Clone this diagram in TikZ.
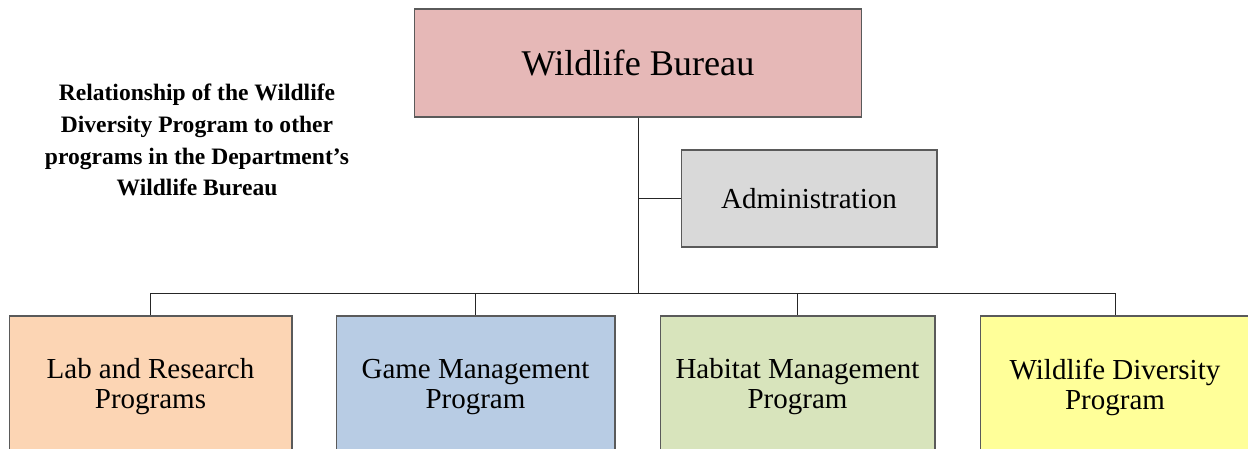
\documentclass[tikz,border=0pt]{standalone}
\usepackage{fontspec}
\setmainfont{Liberation Serif}
\usetikzlibrary{positioning}

\definecolor{bureaupink}{HTML}{E6B8B7}
\definecolor{adminsgray}{HTML}{D9D9D9}
\definecolor{laborange}{HTML}{FCD5B4}
\definecolor{gameblue}{HTML}{B8CCE4}
\definecolor{habitatgreen}{HTML}{D8E4BC}
\definecolor{diversityyellow}{HTML}{FFFF99}
\definecolor{boxline}{HTML}{5A5A5A}

\tikzset{
  unitbox/.style={draw=boxline, line width=0.6pt, inner sep=0pt, align=center},
  progbox/.style={unitbox, minimum height=2.84cm,
    font=\fontsize{16.5}{17}\selectfont},
  link/.style={draw=black!85, line width=0.5pt}
}

\begin{document}
\begin{tikzpicture}[x=0.02cm, y=-0.02cm]
      \useasboundingbox (0,0) rectangle (1248,449);
      \clip (0,0) rectangle (1248,449);

      \node[font=\fontsize{13.4}{18.1}\selectfont\bfseries, align=center] (caption) at (197,140)
        {Relationship of the Wildlife\\ Diversity Program to other\\ programs in the Department’s\\ Wildlife Bureau};

      \node[unitbox, fill=bureaupink, minimum width=8.96cm, minimum height=2.16cm,
        font=\fontsize{20.6}{24}\selectfont] (bureau) at (638,63) {Wildlife Bureau};
      \node[unitbox, fill=adminsgray, minimum width=5.12cm, minimum height=1.94cm,
        font=\fontsize{16.5}{17}\selectfont] (admin) at (809,198.5) {Administration};

      % bottom row, boxes run past the lower edge
      \node[progbox, fill=laborange, minimum width=5.66cm] (lab) at (150.5,387) {Lab and Research\\ Programs};
      \node[progbox, fill=gameblue, minimum width=5.58cm] (game) at (475.5,387) {Game Management\\ Program};
      \node[progbox, fill=habitatgreen, minimum width=5.5cm] (habitat) at (797.5,387) {Habitat Management\\ Program};
      \node[progbox, fill=diversityyellow, minimum width=5.4cm] (diversity) at (1115,387) {Wildlife Diversity\\ Program};

      \coordinate (bus) at (638,293);
      \draw[link] (bureau) -- (bus);
      \draw[link] (admin.west) -- (admin.west -| bus);
      \draw[link] (bus) -| (lab.north);
      \draw[link] (bus) -| (game.north);
      \draw[link] (bus) -| (habitat.north);
      \draw[link] (bus) -| (diversity.north);
    \end{tikzpicture}
\end{document}
